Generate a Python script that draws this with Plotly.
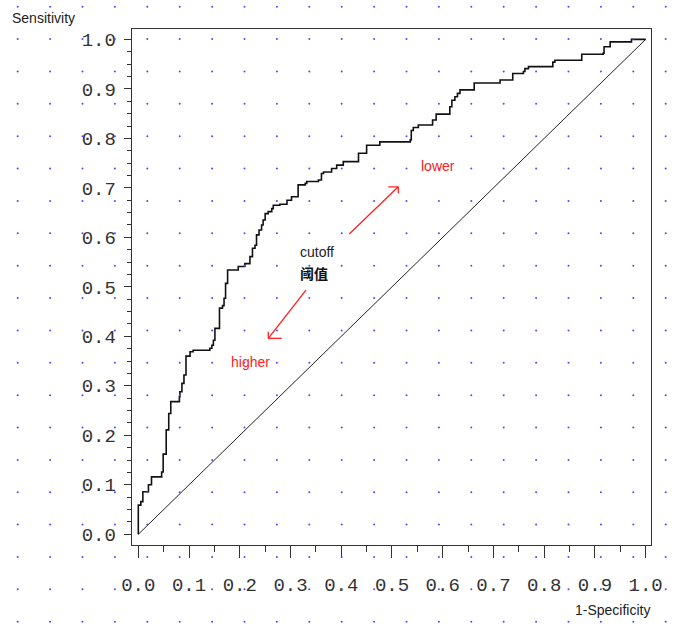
import plotly.graph_objects as go
import numpy as np

# ---- data: ROC curve vertices (1-Specificity, Sensitivity) ----
fpr = [0.000, 0.000, 0.005, 0.009, 0.017, 0.020, 0.026, 0.033, 0.046, 0.049,
       0.055, 0.060, 0.064, 0.069, 0.081, 0.082, 0.086, 0.090, 0.094, 0.097,
       0.102, 0.108, 0.141, 0.145, 0.148, 0.151, 0.159, 0.160, 0.166, 0.169,
       0.172, 0.176, 0.193, 0.197, 0.210, 0.220, 0.225, 0.230, 0.233, 0.238,
       0.243, 0.246, 0.250, 0.256, 0.263, 0.266, 0.279, 0.293, 0.302, 0.312,
       0.315, 0.329, 0.332, 0.355, 0.361, 0.365, 0.381, 0.391, 0.404, 0.430,
       0.434, 0.450, 0.476, 0.536, 0.538, 0.542, 0.552, 0.578, 0.580, 0.587,
       0.611, 0.614, 0.618, 0.624, 0.629, 0.634, 0.662, 0.712, 0.713, 0.736,
       0.738, 0.759, 0.762, 0.769, 0.815, 0.817, 0.821, 0.871, 0.874, 0.916,
       0.918, 0.930, 0.972, 1.000]
tpr = [0.000, 0.059, 0.066, 0.086, 0.086, 0.100, 0.116, 0.116, 0.126, 0.162,
       0.211, 0.244, 0.268, 0.268, 0.278, 0.288, 0.305, 0.322, 0.360, 0.360,
       0.369, 0.372, 0.376, 0.382, 0.392, 0.416, 0.416, 0.457, 0.462, 0.477,
       0.507, 0.534, 0.534, 0.541, 0.547, 0.561, 0.578, 0.584, 0.605, 0.615,
       0.625, 0.635, 0.648, 0.652, 0.658, 0.665, 0.667, 0.675, 0.682, 0.682,
       0.706, 0.709, 0.713, 0.716, 0.729, 0.732, 0.739, 0.746, 0.753, 0.753,
       0.770, 0.786, 0.793, 0.797, 0.816, 0.822, 0.827, 0.827, 0.837, 0.849,
       0.849, 0.864, 0.877, 0.884, 0.891, 0.898, 0.912, 0.912, 0.918, 0.918,
       0.931, 0.935, 0.941, 0.945, 0.945, 0.954, 0.958, 0.958, 0.970, 0.972,
       0.985, 0.995, 1.000, 1.000]
ref_x = [0.0, 1.0]
ref_y = [0.0, 1.0]
tick_vals = [0.0, 0.1, 0.2, 0.3, 0.4, 0.5, 0.6, 0.7, 0.8, 0.9, 1.0]
tick_text = ["0.0", "0.1", "0.2", "0.3", "0.4", "0.5", "0.6", "0.7", "0.8", "0.9", "1.0"]

# ---- decorative dotted background (pixel grid) ----
W, H = 690, 632
gx = 17.7 + 32.4 * np.arange(21)
gy = 6.7 + 32.37 * np.arange(20)
GX, GY = np.meshgrid(gx, gy)

fig = go.Figure()

fig.add_trace(go.Scatter(x=ref_x, y=ref_y, mode="lines",
                         line=dict(color="#222222", width=1),
                         hoverinfo="skip", showlegend=False))
fig.add_trace(go.Scatter(x=fpr, y=tpr, mode="lines", line_shape="hv",
                         line=dict(color="#111111", width=1.6),
                         showlegend=False))
fig.add_trace(go.Scatter(x=GX.ravel(), y=GY.ravel(), mode="markers",
                         xaxis="x2", yaxis="y2",
                         marker=dict(size=2, color="#4a4aff", line=dict(width=0)),
                         hoverinfo="skip", showlegend=False))

mono = dict(family="Liberation Mono, Courier New, monospace", size=19, color="#333333")

fig.update_layout(
    width=W, height=H,
    margin=dict(l=0, r=0, t=0, b=0, autoexpand=False),
    paper_bgcolor="white",
    plot_bgcolor="rgba(0,0,0,0)",
    xaxis=dict(domain=[131.7 / W, 650.7 / W], range=[-0.013, 1.0099],
               automargin=False,
               tickvals=tick_vals, ticktext=tick_text, tickfont=mono,
               ticks="outside", ticklen=12, tickwidth=1, tickcolor="#333333",
               minor=dict(dtick=0.05, ticks="outside", ticklen=6, tickwidth=1,
                          tickcolor="#333333", showgrid=False),
               ticklabelstandoff=10,
               showline=True, mirror=True, linecolor="#333333", linewidth=1,
               showgrid=False, zeroline=False),
    yaxis=dict(domain=[1 - 545 / H, 1 - 29 / H], range=[-0.0216, 1.021],
               automargin=False,
               tickvals=tick_vals, ticktext=tick_text, tickfont=mono,
               ticks="outside", ticklen=7, tickwidth=1, tickcolor="#333333",
               minor=dict(dtick=0.025, ticks="outside", ticklen=3.5, tickwidth=1,
                          tickcolor="#333333", showgrid=False),
               ticklabelstandoff=4,
               showline=True, mirror=True, linecolor="#333333", linewidth=1,
               showgrid=False, zeroline=False),
    xaxis2=dict(domain=[0, 1], range=[0, W], visible=False, anchor="y2",
                automargin=False),
    yaxis2=dict(domain=[0, 1], range=[H, 0], visible=False, anchor="x2",
                automargin=False),
    font=dict(family="Liberation Sans, Arial, sans-serif", color="#222222"),
)

sans = dict(family="Liberation Sans, Arial, sans-serif", size=14, color="#222222")
red = dict(family="Liberation Sans, Arial, sans-serif", size=14, color="#ff2020")

fig.add_annotation(text="Sensitivity", xref="paper", yref="paper",
                   x=10 / W, y=1 - 18 / H, xanchor="left", yanchor="middle",
                   showarrow=False, font=sans)
fig.add_annotation(text="1-Specificity", xref="paper", yref="paper",
                   x=652 / W, y=1 - 610 / H, xanchor="right", yanchor="middle",
                   showarrow=False, font=sans)
fig.add_annotation(text="cutoff", x=0.3153, y=0.5709, xanchor="left", yanchor="middle",
                   showarrow=False, font=sans)
fig.add_annotation(text="<b>阈值</b>", x=0.3153, y=0.5285, xanchor="left", yanchor="middle",
                   showarrow=False,
                   font=dict(family="Noto Sans CJK SC", size=14, color="#111111"))
fig.add_annotation(text="lower", x=0.5897, y=0.7440, showarrow=False, font=red)
fig.add_annotation(text="higher", x=0.2207, y=0.3487, showarrow=False, font=red)

# red arrows with open corner heads
arrow = dict(color="#ff2020", width=1.3)
for (x0, y0, x1, y1) in [
    (0.4158, 0.6067, 0.5124, 0.7022),
    (0.4927, 0.7022, 0.5124, 0.7022),
    (0.5124, 0.6889, 0.5124, 0.7022),
    (0.3305, 0.4935, 0.2562, 0.3960),
    (0.2562, 0.3960, 0.2826, 0.3960),
    (0.2562, 0.3960, 0.2562, 0.4093),
]:
    fig.add_shape(type="line", xref="x", yref="y", x0=x0, y0=y0, x1=x1, y1=y1,
                  line=arrow)

fig.write_html("out.html", config={"displayModeBar": False},
               post_script="document.body.style.margin='0';")
